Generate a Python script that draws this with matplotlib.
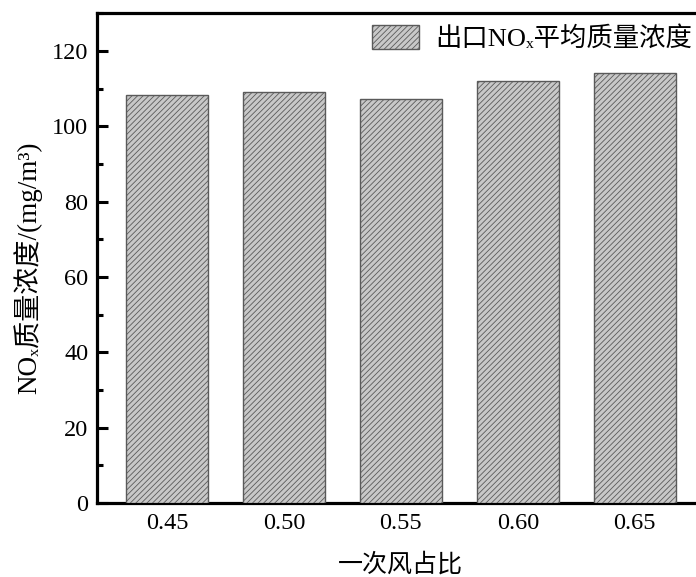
import matplotlib
matplotlib.use('Agg')
import matplotlib.pyplot as plt
from matplotlib.ticker import MultipleLocator

plt.rcParams['font.family'] = ['Liberation Serif', 'DejaVu Serif', 'Noto Sans CJK SC']
plt.rcParams['hatch.color'] = '#8c8c8c'
plt.rcParams['hatch.linewidth'] = 0.6

# 数据
ratio = [0.45, 0.50, 0.55, 0.60, 0.65]
nox = [108.3, 109.0, 107.2, 112.1, 114.1]
tick_labels = ['0.45', '0.50', '0.55', '0.60', '0.65']

fig = plt.figure(figsize=(6.96, 5.77), dpi=100)
ax = fig.add_axes([0.139, 0.128, 0.874, 0.849])

ax.bar(ratio, nox, width=0.035, color='#c8c8c8', edgecolor='#5a5a5a',
       linewidth=1.0, hatch='//////', label='出口NOₓ平均质量浓度', zorder=3)

ax.set_xlim(0.42, 0.68)
ax.set_ylim(0, 130)
ax.set_xticks(ratio)
ax.set_xticklabels(tick_labels)
ax.yaxis.set_major_locator(MultipleLocator(20))
ax.yaxis.set_minor_locator(MultipleLocator(10))
ax.tick_params(axis='y', which='major', direction='in', length=8, width=2.2, labelsize=17.5, pad=6)
ax.tick_params(axis='y', which='minor', direction='in', length=4, width=2.2)
ax.tick_params(axis='x', length=0, labelsize=17.5, pad=7)

for s in ax.spines.values():
    s.set_linewidth(2.3)

ax.set_xlabel('一次风占比', fontsize=18, labelpad=14)
ax.set_ylabel('NOₓ质量浓度/(mg/m³)', fontsize=19.5)
ax.yaxis.set_label_coords(-0.09, 0.48)

ax.legend(loc='upper right', bbox_to_anchor=(692 / 696, 1 - 25 / 577),
          bbox_transform=fig.transFigure, frameon=False, fontsize=19,
          borderpad=0, borderaxespad=0, handlelength=1.8, handleheight=1.0,
          handletextpad=0.6)

plt.savefig('out.png', dpi=100)
